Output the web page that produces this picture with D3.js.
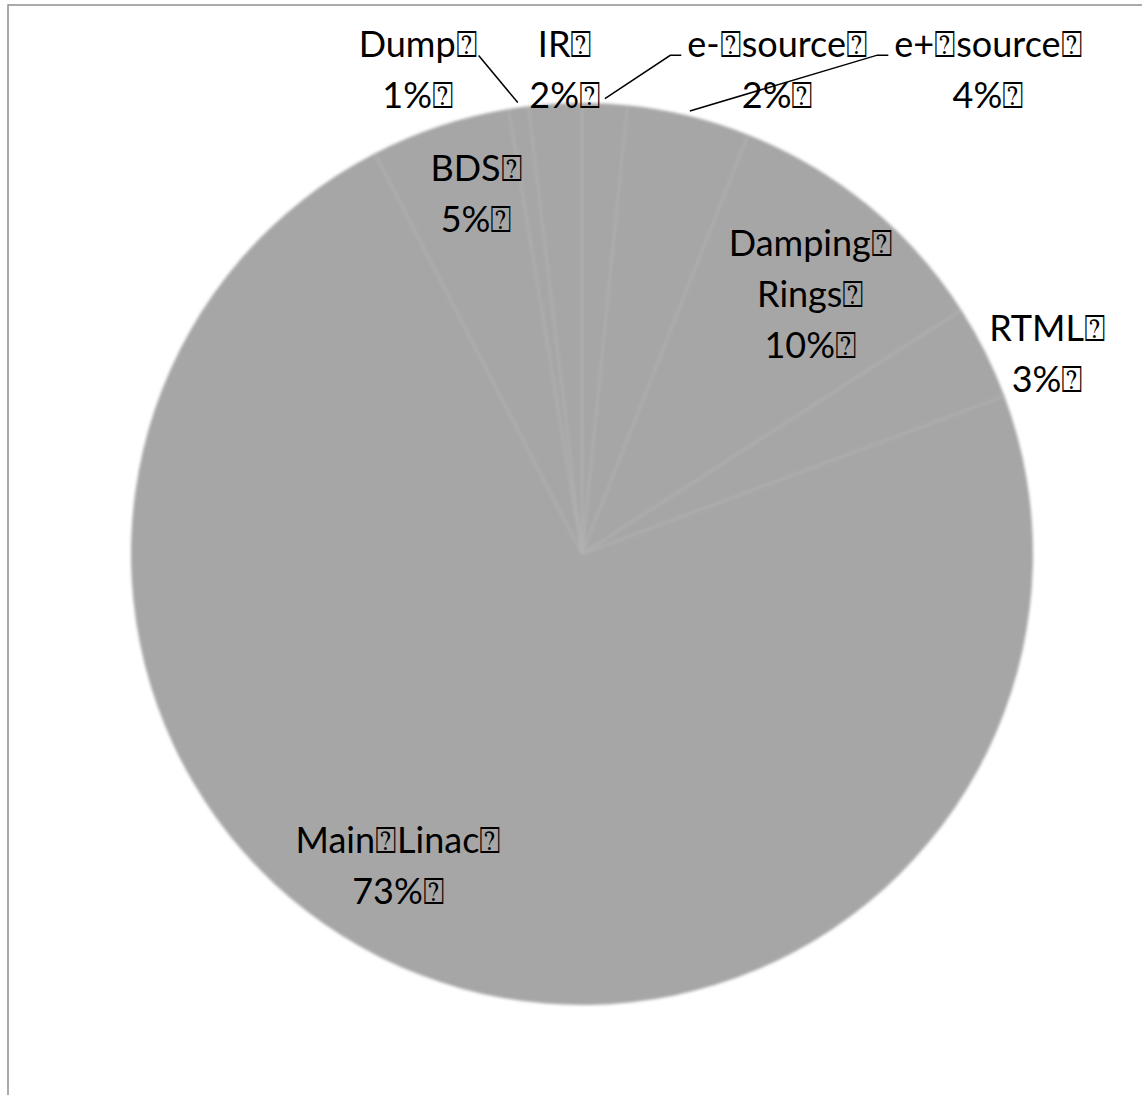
<!DOCTYPE html>
<html>
<head>
<meta charset="utf-8">
<script src="https://cdn.jsdelivr.net/npm/d3@7"></script>
<style>
  html, body { margin: 0; padding: 0; background: #fff; overflow: hidden; }
</style>
</head>
<body>
<script>
// missing-glyph box that the original export shows in place of spaces / line ends
const BOX = "\u2370";

const categories = ["e- source", "e+ source", "Damping Rings", "RTML", "Main Linac", "BDS", "Dump", "IR"];
const values = [1.6, 4.4, 9.9, 3.4, 73.1, 5.0, 0.7, 1.9];
// label lines as drawn (Damping Rings wraps)
const labelText = [["e-" + BOX + "source"], ["e+" + BOX + "source"], ["Damping", "Rings"], ["RTML"],
                   ["Main" + BOX + "Linac"], ["BDS"], ["Dump"], ["IR"]];

// label anchor per slice: [angle deg, radius factor, leader side]
const labelAt = [[22, 1.158, "left"], [40, 1.402, "left"], [41.4, 0.767, null], [66.7, 1.124, null],
                 [210.5, 0.802, null], [-16.3, 0.833, null], [-18.7, 1.133, "right"], [-2, 1.073, null]];

const W = 1142, H = 1095;
const cx = 582, cy = 554, R = 451;
const fontSize = 36, lineH = 51;

const svg = d3.select("body").append("svg").attr("width", W).attr("height", H);

// chart frame (runs off the right and bottom)
svg.append("rect")
  .attr("x", 8).attr("y", 5).attr("width", W).attr("height", H)
  .attr("fill", "#fff").attr("stroke", "#8e8e8e").attr("stroke-width", 1.5);

svg.append("defs").append("filter").attr("id", "soft")
  .append("feGaussianBlur").attr("stdDeviation", 1.8);

const arcs = d3.pie().sort(null).value(d => d)(values);
const arc = d3.arc().innerRadius(0).outerRadius(R);

const g = svg.append("g").attr("transform", `translate(${cx},${cy})`);
const pieG = g.append("g").attr("filter", "url(#soft)");

pieG.selectAll("path.slice")
  .data(arcs)
  .join("path")
  .attr("class", "slice")
  .attr("d", arc)
  .attr("fill", "#a6a6a6");

// faint separators between slices
pieG.selectAll("line.sep")
  .data(arcs)
  .join("line")
  .attr("class", "sep")
  .attr("x1", 0).attr("y1", 0)
  .attr("x2", d => d3.pointRadial(d.startAngle, R)[0])
  .attr("y2", d => d3.pointRadial(d.startAngle, R)[1])
  .attr("stroke", "#b3b3b3")
  .attr("stroke-width", 1.6);

// labels
const labels = g.selectAll("text.lbl")
  .data(arcs)
  .join("text")
  .attr("class", "lbl")
  .attr("font-family", "Lato, 'Open Sans', sans-serif")
  .attr("font-size", fontSize)
  .attr("fill", "#000")
  .attr("text-anchor", "middle")
  .each(function(d, i) {
    const [deg, k] = labelAt[i];
    const [x, y] = d3.pointRadial(deg * Math.PI / 180, k * R);
    const lines = labelText[i].map(s => s + BOX).concat([Math.round(values[i]) + "%" + BOX]);
    const t = d3.select(this);
    lines.forEach((s, j) => {
      t.append("tspan")
        .attr("x", x)
        .attr("y", y + (j - (lines.length - 1) / 2) * lineH)
        .attr("dy", "0.35em")
        .text(s);
    });
    d.lx = x; d.ly = y; d.nLines = lines.length;
  });

// leader lines for the labels that sit away from their slice
labels.each(function(d, i) {
  const side = labelAt[i][2];
  if (!side) return;
  const bb = this.getBBox();
  const mid = (d.startAngle + d.endAngle) / 2;
  const p0 = d3.pointRadial(mid, R + 5);
  const y1 = d.ly - (d.nLines - 1) / 2 * lineH + 11;
  let pts;
  if (side === "left") {
    const xe = bb.x - 6;
    pts = [p0, [xe - 11, y1], [xe, y1]];
  } else {
    pts = [p0, [bb.x + bb.width + 1, y1]];
  }
  g.append("path")
    .attr("d", d3.line()(pts))
    .attr("fill", "none")
    .attr("stroke", "#000")
    .attr("stroke-width", 1.5);
});
</script>
</body>
</html>
